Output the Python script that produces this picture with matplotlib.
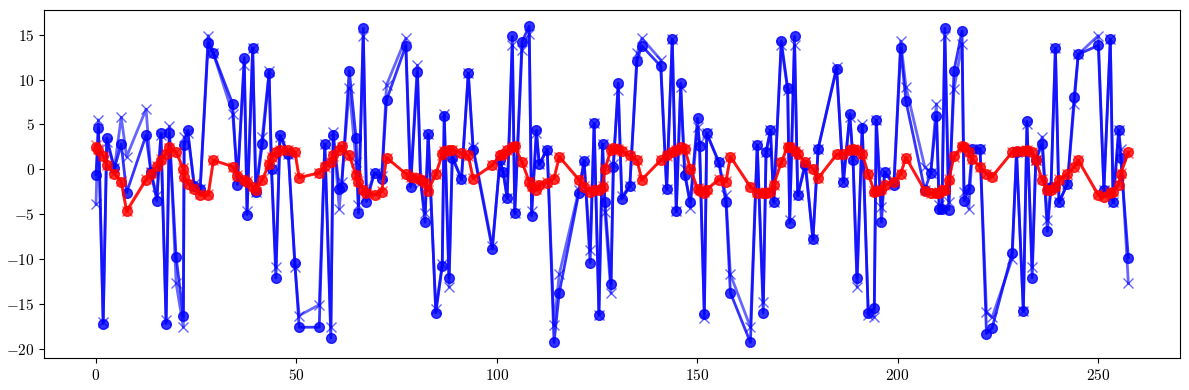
import matplotlib
matplotlib.use("Agg")
import matplotlib.pyplot as plt

plt.rcParams['font.family'] = 'serif'
plt.rcParams['font.serif'] = ['cmr10']
plt.rcParams['mathtext.fontset'] = 'cm'
plt.rcParams['axes.formatter.use_mathtext'] = True

x = [0.0, 0.6, 1.8, 2.7, 4.6, 6.3, 7.65, 12.5, 13.7, 15.2, 16.2, 17.5, 18.3, 20.0, 21.8, 22.0, 22.9,
     24.5, 26.0, 28.0, 29.3, 34.1, 35.3, 37.0, 37.7, 39.1, 39.9, 41.5, 43.2, 43.8, 44.9, 45.9, 48.0,
     49.65, 50.7, 55.7, 57.1, 58.6, 59.2, 60.7, 61.3, 63.2, 64.9, 65.5, 66.7, 67.5, 69.5, 71.3, 72.5,
     77.3, 78.5, 80.2, 81.0, 82.1, 82.9, 84.8, 86.4, 86.9, 88.1, 88.9, 91.2, 92.9, 94.1, 98.9, 100.8,
     101.6, 102.6, 103.9, 104.5, 106.3, 108.1, 108.7, 109.9, 110.6, 112.6, 114.3, 115.6, 120.5, 121.8,
     123.3, 124.3, 125.5, 126.4, 127.0, 128.5, 129.1, 130.3, 131.2, 133.2, 135.0, 136.2, 140.9, 142.4,
     143.8, 144.8, 145.9, 146.9, 148.3, 150.1, 150.6, 151.8, 152.4, 155.4, 157.2, 158.3, 163.3, 165.0,
     166.5, 167.2, 168.3, 169.1, 171.0, 172.6, 173.1, 174.3, 175.1, 177.0, 178.9, 180.2, 184.8, 186.5,
     188.1, 188.9, 189.9, 191.2, 192.7, 194.2, 194.7, 196.0, 196.8, 199.1, 200.8, 202.1, 206.8, 208.3,
     209.7, 210.4, 211.1, 211.8, 212.8, 214.1, 216.1, 216.6, 217.8, 218.7, 220.6, 222.2, 223.6, 228.6,
     229.7, 231.4, 232.3, 233.6, 234.5, 236.1, 237.4, 238.3, 239.4, 240.3, 242.4, 244.1, 245.1, 250.1,
     251.5, 253.1, 253.8, 255.2, 255.7, 257.6]

blue_o = [-0.6, 4.6, -17.2, 3.5, 0.1, 2.8, -2.6, 3.8, -0.3, -3.5, 4.0, -17.2, 4.05, -9.8, -16.4, 2.7, 4.35,
          -1.9, -2.2, 14.1, 12.9, 7.3, -1.7, 12.45, -5.05, 13.5, -2.5, 2.8, 10.7, 0.0, -12.1, 3.8, 1.75,
          -10.5, -17.6, -17.6, 2.8, -18.8, 3.8, -2.15, -2.0, 11.0, 3.5, -4.9, 15.7, -3.6, -0.4, -1.04, 7.7,
          13.75, -2.0, 10.85, -1.2, -5.9, 3.9, -16.0, -10.8, 5.9, -12.1, 1.3, -1.1, 10.7, 2.2, -8.9, 1.0,
          -0.3, -3.2, 14.8, -4.9, 14.2, 15.95, -5.2, 4.35, 0.56, 2.2, -19.3, -13.75, -2.6, 0.9,
          -10.4, 5.1, -16.2, 2.8, -3.6, -12.75, 0.26, 9.6, -3.3, -1.9, 12.1, 13.75, 11.5, -2.2,
          14.5, -4.7, 9.6, -0.67, -3.6, 5.7, 2.6, -16.1, 4.0, 0.8, -3.7, -13.75, -19.3, 2.7,
          -16.0, 1.9, 4.35, -3.6, 14.3, 9.0, -6.0, 14.8, -2.9, 0.45, -7.8, 2.3, 11.2, -1.4,
          6.2, 1.0, -12.1, 4.65, -16.0, -15.5, 5.5, -5.9, -0.3, -1.8, 13.5, 7.6, -2.3, -0.4,
          5.9, -4.4, -4.4, 15.7, -4.5, 11.0, 15.4, -3.5, -2.2, 2.3, 2.3, -18.3, -17.7, -9.3,
          1.9, -15.8, 5.35, -12.1, 1.0, 2.8, -6.9, -2.0, 13.5, -3.7, -1.6, 8.1, 12.8, 13.8,
          -2.3, 14.5, -3.7, 4.35, 1.2, -9.85]

blue_x = [-3.9, 5.5, -17.0, 3.0, 0.1, 5.8, 1.4, 6.7, -0.3, -2.9, 3.8, -16.8, 4.8, -12.7, -17.6, 3.6, 4.0,
          -1.6, -2.2, 14.9, 12.9, 6.2, -1.0, 11.6, -4.6, 13.5, -2.5, 3.6, 10.9, 0.07, -10.9, 3.6, 1.75,
          -10.9, -16.3, -15.1, 2.8, -17.6, 4.2, -4.4, -1.4, 9.0, 0.8, -4.0, 14.8, -3.0, -0.4, -0.8, 9.4,
          14.6, -1.5, 11.6, -1.4, -4.9, 3.9, -15.6, -10.6, 6.2, -13.1, 1.5, -1.1, 10.7, 2.5, -8.6, 1.0,
          -0.3, -3.2, 13.8, -4.9, 13.3, 15.1, -4.6, 4.0, 0.56, 2.2, -17.4, -11.7, -2.3, 1.0,
          -9.0, 5.1, -16.2, 2.8, -4.8, -13.8, 0.6, 8.8, -3.0, -1.9, 12.9, 14.6, 12.2, -2.2,
          14.5, -4.7, 9.2, 0.0, -4.3, 4.7, 3.0, -16.6, 4.0, 0.8, -2.9, -11.7, -17.6, 2.7,
          -14.8, 1.9, 4.35, -3.6, 13.8, 8.8, -5.6, 13.8, -2.9, 0.8, -7.8, 2.3, 11.4, -1.4,
          5.8, 1.3, -13.1, 5.0, -16.2, -16.5, 5.5, -4.2, -0.3, -1.5, 14.3, 9.2, 0.26, -0.4,
          7.3, -4.0, -4.4, 14.8, -3.6, 8.9, 14.0, -2.5, -4.4, 2.3, 2.3, -15.9, -16.5, -10.0,
          1.9, -15.8, 5.0, -10.9, 1.0, 3.6, -5.7, -2.0, 13.5, -3.7, -1.6, 7.3, 12.8, 14.9,
          -2.3, 14.5, -3.7, 4.35, 2.3, -12.7]

red_o = [2.5, 2.2, 1.45, 0.45, -0.5, -1.4, -4.7, -1.2, -0.5, 0.37, 1.0, 1.7, 2.5, 1.9, 0.07, -0.85, -1.6,
         -2.2, -2.9, -2.9, 1.0, 0.3, -0.7, -1.2, -1.4, -2.0, -2.3, -1.2, 0.6, 1.4, 1.9, 2.1, 2.2,
         1.9, -0.95, -0.4, 0.33, 0.8, 1.56, 2.1, 2.6, 1.56, -0.67, -1.4, -2.3, -2.7, -2.9, -2.5, 1.3,
         -0.5, -0.9, -1.0, -1.2, -1.5, -2.4, -0.56, 1.67, 2.05, 2.2, 2.2, 1.8, 1.56, -1.04, 0.45, 1.56,
         1.67, 2.1, 2.5, 2.6, 0.8, -1.4, -2.0, -2.3, -1.7, -1.5, -1.04, 1.4, -1.2, -2.0,
         -2.5, -2.3, -2.3, -2.0, 0.07, 2.1, 2.4, 2.3, 2.05, 1.56, 1.0, -1.2, 1.0, 1.56,
         1.9, 2.2, 2.5, 2.3, 0.07, -2.2, -2.4, -2.6, -2.3, -1.15, -1.4, 1.4, -2.0, -2.6,
         -2.7, -2.7, -2.5, -1.8, 0.8, 2.5, 2.5, 2.05, 1.75, 0.8, 0.07, -1.0, 1.67, 1.75,
         2.2, 2.3, 2.2, 1.75, -0.5, -2.5, -2.4, -2.3, -1.8, -1.4, -0.5, 1.3, -2.4, -2.7,
         -2.7, -2.6, -2.3, -2.3, -1.2, 1.45, 2.6, 2.5, 1.9, 1.1, 0.26, -0.5, -0.85, 1.9,
         2.05, 2.05, 2.2, 1.9, 1.0, -1.2, -2.3, -2.3, -2.0, -1.2, -0.56, 0.26, 1.0, -2.9,
         -3.1, -2.6, -2.5, -1.7, -0.5, 1.9]

red_x = [2.7, 2.3, 1.5, 0.5, -0.4, -1.3, -4.6, -1.1, -0.4, 0.4, 1.1, 1.8, 2.4, 1.9, 0.1, -0.8, -1.5,
         -2.1, -2.8, -2.8, 1.0, 0.3, -0.6, -1.1, -1.3, -1.9, -2.2, -1.1, 0.6, 1.4, 1.9, 2.1, 2.2,
         1.9, -0.9, -0.4, 0.3, 0.8, 1.5, 2.1, 2.5, 1.5, -0.6, -1.3, -2.2, -2.6, -2.8, -2.4, 1.3,
         -0.5, -0.9, -1.0, -1.1, -1.4, -2.3, -0.5, 1.6, 2.0, 2.2, 2.2, 1.8, 1.5, -1.0, 0.5, 1.5,
         1.6, 2.1, 2.5, 2.5, 0.8, -1.3, -1.9, -2.2, -1.6, -1.4, -1.0, 1.4, -1.1, -1.9,
         -2.4, -2.2, -2.2, -1.9, 0.1, 2.1, 2.4, 2.3, 2.0, 1.5, 1.0, -1.1, 1.0, 1.5,
         1.9, 2.2, 2.4, 2.3, 0.1, -2.1, -2.3, -2.5, -2.2, -1.1, -1.3, 1.4, -1.9, -2.5,
         -2.6, -2.6, -2.4, -1.7, 0.8, 2.5, 2.5, 2.0, 1.7, 0.8, 0.1, -1.0, 1.6, 1.7,
         2.2, 2.3, 2.2, 1.7, -0.5, -2.4, -2.3, -2.2, -1.7, -1.3, -0.5, 1.3, -2.3, -2.6,
         -2.6, -2.5, -2.2, -2.2, -1.1, 1.4, 2.5, 2.4, 1.9, 1.1, 0.3, -0.5, -0.8, 1.9,
         2.0, 2.0, 2.2, 1.9, 1.0, -1.1, -2.2, -2.2, -1.9, -1.1, -0.5, 0.3, 1.0, -2.8,
         -3.0, -2.5, -2.4, -1.6, -0.4, 1.8]

fig, ax = plt.subplots(figsize=(11.89, 3.9), dpi=100)
ax.plot(x, blue_x, color='blue', marker='x', alpha=0.6, lw=2, ms=7)
ax.plot(x, blue_o, color='blue', marker='o', alpha=0.8, lw=2, ms=7)
ax.plot(x, red_x, color='red', marker='x', alpha=0.6, lw=2, ms=7)
ax.plot(x, red_o, color='red', marker='o', alpha=0.8, lw=2, ms=7)
ax.tick_params(labelsize=11)
fig.subplots_adjust(left=0.0373, right=0.9924, top=0.9736, bottom=0.0813)
fig.savefig('out.png', dpi=100)
